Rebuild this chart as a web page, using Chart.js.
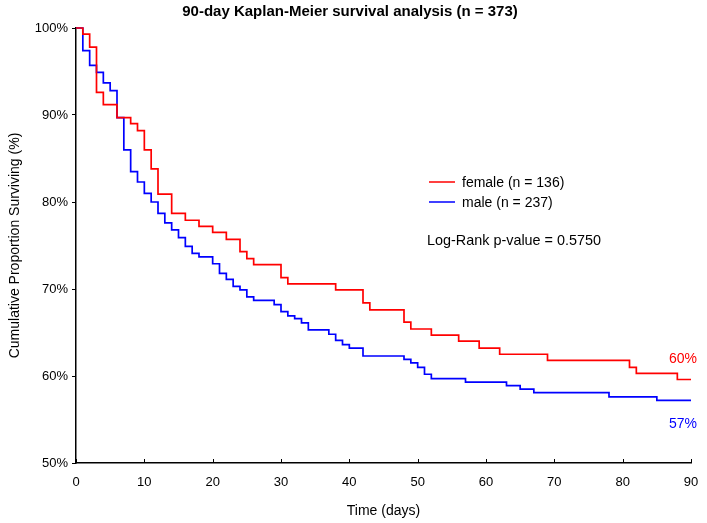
<!DOCTYPE html>
<html>
<head>
<meta charset="utf-8">
<script src="https://cdn.jsdelivr.net/npm/chart.js@4/dist/chart.umd.min.js"></script>
<style>
  body { margin: 0; background: #fff; }
  canvas { display: block; }
</style>
</head>
<body>
<canvas id="chart" width="707" height="523"></canvas>
<script>
// Kaplan-Meier steps (day, % surviving)
const femaleDays = [0, 1, 2, 3, 4, 6, 8, 9, 10, 11, 12, 14, 16, 18, 20, 22, 24, 25, 26, 30, 31, 38, 42, 43, 48, 49, 52, 56, 59, 62, 69, 81, 82, 88, 90];
const femaleSurv = [100, 99.3, 97.8, 92.6, 91.2, 89.7, 89.0, 88.2, 86.0, 83.8, 80.9, 78.7, 77.9, 77.2, 76.5, 75.7, 74.3, 73.5, 72.8, 71.3, 70.6, 69.9, 68.4, 67.6, 66.2, 65.4, 64.7, 64.0, 63.2, 62.5, 61.8, 61.0, 60.3, 59.6, 59.6];

const maleDays = [0, 1, 2, 3, 4, 5, 6, 7, 8, 9, 10, 11, 12, 13, 14, 15, 16, 17, 18, 20, 21, 22, 23, 24, 25, 26, 29, 30, 31, 32, 33, 34, 37, 38, 39, 40, 42, 48, 49, 50, 51, 52, 57, 63, 65, 67, 78, 85, 90];
const maleSurv = [100, 97.4, 95.7, 94.9, 93.7, 92.8, 89.7, 86.0, 83.5, 82.3, 81.0, 80.0, 78.7, 77.6, 76.8, 75.9, 74.9, 74.1, 73.7, 72.9, 71.8, 71.1, 70.3, 69.9, 69.1, 68.7, 68.2, 67.4, 66.9, 66.6, 66.1, 65.3, 64.8, 64.1, 63.6, 63.2, 62.3, 61.9, 61.5, 61.0, 60.2, 59.7, 59.3, 58.9, 58.5, 58.1, 57.6, 57.2, 57.2];

const seriesNames = ['female (n = 136)', 'male (n = 237)'];
const seriesColors = ['#ff0000', '#0000ff'];
const endLabels = ['60%', '57%'];
const xTickValues = [0, 10, 20, 30, 40, 50, 60, 70, 80, 90];
const pValueText = 'Log-Rank p-value = 0.5750';
const chartTitle = '90-day Kaplan-Meier survival analysis (n = 373)';

const FONT = '"Liberation Sans", Arial, sans-serif';

function toPoints(days, surv) {
  return days.map((d, i) => ({ x: d, y: surv[i] }));
}

const extras = {
  id: 'extras',
  afterDraw(chart) {
    const ctx = chart.ctx;
    const xs = chart.scales.x, ys = chart.scales.y;
    ctx.save();

    // small inward ticks on the time axis
    ctx.strokeStyle = '#000';
    ctx.lineWidth = 1;
    xTickValues.forEach(v => {
      const px = Math.round(xs.getPixelForValue(v)) + 0.5;
      ctx.beginPath();
      ctx.moveTo(px, ys.bottom);
      ctx.lineTo(px, ys.bottom - 4);
      ctx.stroke();
    });

    // title
    ctx.fillStyle = '#000';
    ctx.font = 'bold 15px ' + FONT;
    ctx.textAlign = 'center';
    ctx.textBaseline = 'middle';
    ctx.fillText(chartTitle, 350, 12);

    // legend
    ctx.font = '14px ' + FONT;
    ctx.textAlign = 'left';
    seriesNames.forEach((name, i) => {
      const ly = 182 + i * 20;
      ctx.strokeStyle = seriesColors[i];
      ctx.lineWidth = 1.5;
      ctx.beginPath();
      ctx.moveTo(429, ly);
      ctx.lineTo(455, ly);
      ctx.stroke();
      ctx.fillStyle = '#000';
      ctx.fillText(name, 462, ly + 1);
    });
    ctx.font = '14.4px ' + FONT;
    ctx.fillText(pValueText, 427, 241);

    // end-of-curve labels
    ctx.font = '14px ' + FONT;
    ctx.textAlign = 'center';
    const lastF = femaleSurv[femaleSurv.length - 1];
    const lastM = maleSurv[maleSurv.length - 1];
    const endX = xs.getPixelForValue(90) - 8;
    ctx.fillStyle = seriesColors[0];
    ctx.fillText(endLabels[0], endX, ys.getPixelForValue(lastF) - 20);
    ctx.fillStyle = seriesColors[1];
    ctx.fillText(endLabels[1], endX, ys.getPixelForValue(lastM) + 24);

    ctx.restore();
  }
};

const ctx = document.getElementById('chart').getContext('2d');
new Chart(ctx, {
  type: 'line',
  data: {
    datasets: [
      { label: seriesNames[0], data: toPoints(femaleDays, femaleSurv), borderColor: seriesColors[0], borderWidth: 1.7, stepped: true, pointRadius: 0, fill: false, clip: false },
      { label: seriesNames[1], data: toPoints(maleDays, maleSurv), borderColor: seriesColors[1], borderWidth: 1.7, stepped: true, pointRadius: 0, fill: false, clip: false }
    ]
  },
  options: {
    responsive: false,
    animation: false,
    devicePixelRatio: 1,
    layout: { padding: { top: 28, right: 16, left: 0, bottom: 0 } },
    plugins: {
      legend: { display: false },
      tooltip: { enabled: false }
    },
    scales: {
      x: {
        type: 'linear',
        min: 0,
        max: 90,
        afterFit(scale) { scale.height = 60; scale.paddingLeft = 0; scale.paddingRight = 0; },
        ticks: { stepSize: 10, color: '#000', padding: 12, maxRotation: 0, font: { family: FONT, size: 13 } },
        grid: { drawOnChartArea: false, drawTicks: false },
        border: { color: '#000', width: 1.5 },
        title: { display: true, text: 'Time (days)', color: '#000', font: { family: FONT, size: 14 }, padding: { top: 4, bottom: 3 } }
      },
      y: {
        min: 50,
        max: 100,
        afterFit(scale) { scale.width = 76; },
        ticks: { stepSize: 10, color: '#000', padding: 4, font: { family: FONT, size: 13 }, callback: v => v + '%' },
        grid: { drawOnChartArea: false, tickLength: 4, color: '#000' },
        border: { color: '#000', width: 1.5 },
        title: { display: true, text: 'Cumulative Proportion Surviving (%)', color: '#000', font: { family: FONT, size: 14 }, padding: { top: 7, bottom: 4 } }
      }
    }
  },
  plugins: [extras]
});
</script>
</body>
</html>
